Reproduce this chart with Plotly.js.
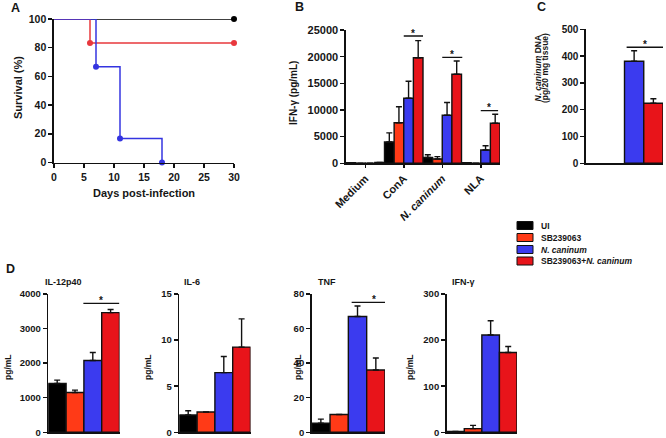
<!DOCTYPE html>
<html><head><meta charset="utf-8">
<script src="https://cdn.plot.ly/plotly-3.0.1.min.js"></script>
<style>html,body{margin:0;padding:0;background:#fff}#chart{width:666px;height:438px}</style>
</head><body><div id="chart"></div>
<script>
// ---------- Panel A: survival ----------
const daysUI = [0, 30];
const survUI = [100, 100];
const daysSB = [0, 6, 30];
const survSB = [100, 83.3, 83.3];
const daysNc = [0, 7, 11, 18];
const survNc = [100, 66.7, 16.7, 0];

// ---------- Panel B: IFN-gamma by stimulus ----------
const stimCats = ['Medium', 'ConA', '<i>N. caninum</i>', 'NLA'];
const ifnUI = [120, 4000, 1100, 100];
const ifnUIerr = [0, 1700, 500, 0];
const ifnSB = [30, 7600, 800, 20];
const ifnSBerr = [0, 3000, 450, 0];
const ifnNc = [40, 12200, 9000, 2500];
const ifnNcErr = [0, 3200, 2400, 800];
const ifnSBNc = [150, 19800, 16700, 7500];
const ifnSBNcErr = [0, 3200, 2500, 1700];

// ---------- Panel C: parasite DNA ----------
const groupCats = ['UI', 'SB239063', 'N. caninum', 'SB239063+N. caninum'];
const dnaVals = [null, null, 381, 224];
const dnaErr = [0, 0, 39, 17];

// ---------- Panel D: cytokines ----------
const il12Vals = [1410, 1150, 2075, 3460];
const il12Err = [100, 70, 235, 90];
const il6Vals = [1.87, 2.2, 6.47, 9.24];
const il6Err = [0.47, 0, 1.75, 3.06];
const tnfVals = [5.2, 10.3, 67, 36];
const tnfErr = [2.4, 0, 6.1, 7];
const ifnDVals = [2, 8, 211, 173];
const ifnDErr = [0, 7, 31, 13];

const legendNames = ['UI', 'SB239063', '<i>N. caninum</i>', 'SB239063+<i>N. caninum</i>'];
const groupColors = ['#000000', '#ff3a17', '#3b3bef', '#e8141a'];
const survColors = ['#000000', '#e8383d', '#3434e0'];

// ---------- helpers ----------
const W = 666, H = 438;
const fx = p => p / W;
const fy = p => 1 - p / H;
const FONT = 'Liberation Sans, Arial, Helvetica, sans-serif';
const TXT = '#161616';
const zeros = a => a.map(() => 0);

function axisBase(extra) {
  return Object.assign({
    showline: true, linecolor: '#111', linewidth: 1.6,
    ticks: 'outside', ticklen: 4, tickwidth: 1.5, tickcolor: '#111',
    showgrid: false, zeroline: false, fixedrange: true,
    tickformat: 'd', exponentformat: 'none',
    tickfont: {family: FONT, size: 10.5, color: TXT, weight: 700}
  }, extra);
}
function errY(arr) {
  return {type: 'data', array: arr, arrayminus: zeros(arr), symmetric: false,
          color: '#111', thickness: 1.4, width: 3};
}

const traces = [];
// Panel A lines + markers
[[daysUI, survUI], [daysSB, survSB], [daysNc, survNc]].forEach((d, i) => {
  traces.push({type: 'scatter', mode: 'lines', x: d[0], y: d[1], xaxis: 'x', yaxis: 'y',
    line: {shape: 'hv', color: survColors[i], width: 1.5}, cliponaxis: false, showlegend: false, hoverinfo: 'skip'});
  traces.push({type: 'scatter', mode: 'markers', x: d[0].slice(1), y: d[1].slice(1), xaxis: 'x', yaxis: 'y',
    marker: {color: survColors[i], size: 6}, cliponaxis: false, showlegend: false, hoverinfo: 'skip'});
});

// Panel B grouped bars
[[ifnUI, ifnUIerr], [ifnSB, ifnSBerr], [ifnNc, ifnNcErr], [ifnSBNc, ifnSBNcErr]].forEach((d, i) => {
  traces.push({type: 'bar', x: stimCats, y: d[0], xaxis: 'x2', yaxis: 'y2', name: legendNames[i],
    marker: {color: groupColors[i], line: {color: '#111', width: 1.4}},
    error_y: errY(d[1]), showlegend: false, hoverinfo: 'skip'});
});

// Panel C
traces.push({type: 'bar', x: groupCats, y: dnaVals, xaxis: 'x3', yaxis: 'y3',
  marker: {color: groupColors, line: {color: '#111', width: 1.4}},
  error_y: errY(dnaErr), showlegend: false, hoverinfo: 'skip'});

// Panel D
[[il12Vals, il12Err], [il6Vals, il6Err], [tnfVals, tnfErr], [ifnDVals, ifnDErr]].forEach((d, i) => {
  traces.push({type: 'bar', x: groupCats, y: d[0], xaxis: 'x' + (4 + i), yaxis: 'y' + (4 + i),
    marker: {color: groupColors, line: {color: '#111', width: 1.4}},
    error_y: errY(d[1]), showlegend: false, hoverinfo: 'skip'});
});

const dTop = 294, dBot = 432.3;
const layout = {
  width: W, height: H, margin: {l: 0, r: 0, t: 0, b: 0},
  paper_bgcolor: '#fff', plot_bgcolor: 'rgba(0,0,0,0)',
  barmode: 'group', bargap: 0, bargroupgap: 0, showlegend: false,
  font: {family: FONT, color: TXT},
  // A
  xaxis: axisBase({domain: [fx(54), fx(234)], range: [0, 30], dtick: 5, anchor: 'y'}),
  yaxis: axisBase({domain: [fy(162.5), fy(19)], range: [0, 100], dtick: 20, anchor: 'x'}),
  // B
  xaxis2: axisBase({domain: [fx(346), fx(500)], type: 'category', range: [-0.5, 3.5], anchor: 'y2',
    tickangle: -45, ticklen: 3, tickfont: {family: FONT, size: 11, color: TXT, weight: 700}}),
  yaxis2: axisBase({domain: [fy(163.3), fy(30)], range: [0, 25000], dtick: 5000, anchor: 'x2',
    tickfont: {family: FONT, size: 11, color: TXT, weight: 700}}),
  // C
  xaxis3: axisBase({domain: [fx(586), fx(663)], type: 'category', range: [-0.5, 3.5], anchor: 'y3',
    ticks: '', showticklabels: false}),
  yaxis3: axisBase({domain: [fy(163.3), fy(29.3)], range: [0, 500], dtick: 100, anchor: 'x3',
    tickfont: {family: FONT, size: 10, color: TXT, weight: 700}}),
  shapes: [], annotations: []
};
const dX = [[48.3, 119.5], [179.3, 250.5], [311.7, 385], [446.7, 517]];
const dRanges = [[0, 4000, 1000], [0, 15, 5], [0, 80, 20], [0, 300, 100]];
for (let i = 0; i < 4; i++) {
  const n = 4 + i;
  layout['xaxis' + n] = axisBase({domain: [fx(dX[i][0]), fx(dX[i][1])], type: 'category', range: [-0.5, 3.5],
    anchor: 'y' + n, ticks: '', showticklabels: false});
  layout['yaxis' + n] = axisBase({domain: [fy(dBot), fy(dTop)], range: [dRanges[i][0], dRanges[i][1]],
    dtick: dRanges[i][2], anchor: 'x' + n, tickfont: {family: FONT, size: 9.5, color: TXT, weight: 700}});
}

// significance bars
function sig(xr, yr, x0, x1, y) {
  layout.shapes.push({type: 'line', xref: xr, yref: yr, x0: x0, x1: x1, y0: y, y1: y,
    line: {color: '#111', width: 1.3}});
  layout.annotations.push({xref: xr, yref: yr, x: (x0 + x1) / 2, y: y, text: '*', showarrow: false,
    yanchor: 'middle', xanchor: 'center', yshift: 3, font: {family: FONT, size: 10, color: TXT, weight: 700}});
}
sig('x2', 'y2', 1.0, 1.5, 23875);
sig('x2', 'y2', 2.0, 2.52, 19880);
sig('x2', 'y2', 3.0, 3.45, 9865);
sig('x3', 'y3', 1.61, 3.5, 433);
sig('x4', 'y4', 1.47, 3.49, 3731);
sig('x6', 'y6', 1.68, 4.1, 75.2);

// text helper (pixel coords)
function txt(t, px, py, size, opts) {
  layout.annotations.push(Object.assign({xref: 'paper', yref: 'paper', x: fx(px), y: fy(py), text: t,
    showarrow: false, xanchor: 'center', yanchor: 'middle',
    font: {family: FONT, size: size, color: TXT, weight: 700}}, opts || {}));
}
// panel letters
txt('A', 15, 8, 12.5);
txt('B', 299, 7, 12.5);
txt('C', 541, 7, 12.5);
txt('D', 10, 269, 12.5);
// axis titles
txt('Survival (%)', 18, 88, 11, {textangle: -90});
txt('Days post-infection', 144, 193, 11);
txt('IFN-γ (pg/mL)', 294, 93, 10, {textangle: -90});
txt('<i>N. caninum</i> DNA', 537.5, 68, 8.5, {textangle: -90});
txt('(pg/20 mg tissue)', 545, 68, 8.5, {textangle: -90});
const dTitles = ['IL-12p40', 'IL-6', 'TNF', 'IFN-γ'];
const dTitleX = [43, 182, 316, 450];
const dYLabX = [8, 148, 298, 410];
for (let i = 0; i < 4; i++) {
  txt(dTitles[i], dTitleX[i], 282, 9, {xanchor: 'left'});
  txt('pg/mL', dYLabX[i], 367, 8.5, {textangle: -90});
}
// legend
const legY = [225.5, 237.5, 249.5, 261];
for (let i = 0; i < 4; i++) {
  layout.shapes.push({type: 'rect', xref: 'paper', yref: 'paper', x0: fx(517), x1: fx(533),
    y0: fy(legY[i] + 4), y1: fy(legY[i] - 4), fillcolor: groupColors[i], line: {color: '#111', width: 1}});
  txt(legendNames[i], 539, legY[i], 8.5, {xanchor: 'left'});
}

Plotly.newPlot('chart', traces, layout, {staticPlot: true, displayModeBar: false});
</script></body></html>
